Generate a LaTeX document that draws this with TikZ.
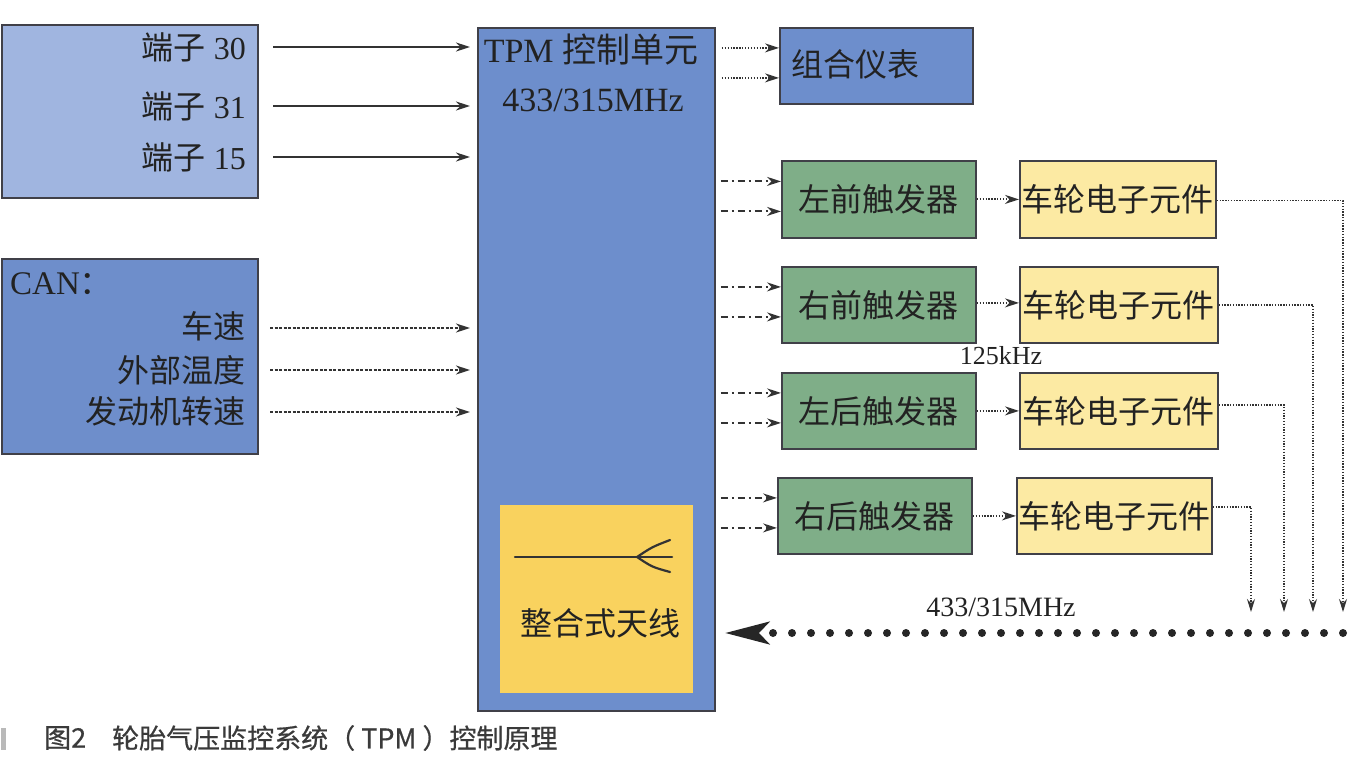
\documentclass[tikz,border=0pt]{standalone}
\usepackage{fontspec}
\setmainfont{Liberation Serif}
\newfontfamily\cjk{Noto Sans CJK SC}
\newfontfamily\capfont[FakeBold=0.6]{Noto Sans CJK SC}
\usetikzlibrary{arrows.meta,calc}
\definecolor{termblue}{HTML}{A0B5E0}
\definecolor{canblue}{HTML}{6E8ECB}
\definecolor{tpmblue}{HTML}{6D8ECC}
\definecolor{trgreen}{HTML}{7FAE88}
\definecolor{wyellow}{HTML}{FCEAA3}
\definecolor{antyellow}{HTML}{F9D25E}
\definecolor{bordercol}{HTML}{404048}
\definecolor{arrcol}{HTML}{333333}
\definecolor{txtcol}{HTML}{222222}
\definecolor{captcol}{HTML}{3A3A3A}
\newcommand\myzh[1]{{\cjk #1}}
\begin{document}
\begin{tikzpicture}[x=1pt,y=-1pt,
 box/.style={draw=bordercol,line width=1.8pt,inner sep=0pt,anchor=north west,text=txtcol,font=\cjk\fontsize{32}{36}\selectfont},
 lbl/.style={inner sep=0pt,text=txtcol,font=\fontsize{32}{36}\selectfont},
 solidarr/.style={draw=arrcol,line width=1.9pt,-{Stealth[length=14pt,width=9pt]}},
 dasharr/.style={solidarr,dash pattern=on 3pt off 1.5pt},
 dotarr/.style={solidarr,dash pattern=on 1.3pt off 1.6pt},
 dotdasharr/.style={solidarr,dash pattern=on 7pt off 4pt on 2pt off 4pt},
 rfline/.style={draw=arrcol,line width=1.3pt,dash pattern=on 1.3pt off 1.5pt,-{Stealth[length=13pt,width=8pt]}},
 bigdot/.style={draw=black!85,line width=8pt,dash pattern=on 0pt off 19pt,line cap=round,-{Stealth[length=44pt,width=22pt,inset=10pt]}},
]
\useasboundingbox (0,0) rectangle (1358,758);
\fill[white] (0,0) rectangle (1358,758);

% left boxes
\node[box,fill=termblue,minimum width=256pt,minimum height=173pt] (term) at (1,24) {};
\node[lbl,anchor=east] (t30) at (246,47) {\myzh{端子} 30};
\node[lbl,anchor=east] (t31) at (246,106) {\myzh{端子} 31};
\node[lbl,anchor=east] (t15) at (246,157) {\myzh{端子} 15};

\node[box,fill=canblue,minimum width=256pt,minimum height=195pt] (can) at (1,258) {};
\node[lbl,anchor=west,font=\fontsize{33}{36}\selectfont] (cant) at (10,284) {CAN\myzh{：}};
\node[lbl,anchor=east] (v1) at (246,326) {\myzh{车速}};
\node[lbl,anchor=east] (v2) at (246,370) {\myzh{外部温度}};
\node[lbl,anchor=east] (v3) at (246,411) {\myzh{发动机转速}};

% TPM unit
\node[box,fill=tpmblue,minimum width=237pt,minimum height=683pt] (tpm) at (477,27) {};
\node[lbl,font=\fontsize{34}{38}\selectfont] (tpmt) at (591,50) {TPM \myzh{控制单元}};
\node[lbl,font=\fontsize{34}{38}\selectfont] (tpmf) at (593,100) {433/315MHz};

% antenna
\node[box,draw=none,fill=antyellow,minimum width=193pt,minimum height=188pt] (ant) at (499,504) {};
\draw[line width=2.5pt,draw=black!80,line cap=round] (515,557) -- (672,557);
\draw[line width=2.2pt,draw=black!80,line cap=round] (670,540) .. controls (652,547) .. (637,557) .. controls (652,567) .. (670,572);
\node[lbl,font=\cjk\fontsize{32}{36}\selectfont] (antt) at (600,623) {整合式天线};

% instrument cluster
\node[box,fill=tpmblue,minimum width=193pt,minimum height=76pt] (gz) at (779,27) {};
\node[lbl,anchor=west,font=\cjk\fontsize{32}{36}\selectfont] (gzt) at (791,64) {组合仪表};

% triggers and wheel electronics
\node[box,fill=trgreen,minimum width=194pt,minimum height=77pt] (tr1) at (781,160) {左前触发器};
\node[box,fill=trgreen,minimum width=194pt,minimum height=76pt] (tr2) at (781,266) {右前触发器};
\node[box,fill=trgreen,minimum width=194pt,minimum height=76pt] (tr3) at (781,372) {左后触发器};
\node[box,fill=trgreen,minimum width=194pt,minimum height=76pt] (tr4) at (777,477) {右后触发器};
\node[box,fill=wyellow,minimum width=196pt,minimum height=77pt] (w1) at (1019,160) {车轮电子元件};
\node[box,fill=wyellow,minimum width=198pt,minimum height=76pt] (w2) at (1019,266) {车轮电子元件};
\node[box,fill=wyellow,minimum width=198pt,minimum height=76pt] (w3) at (1019,372) {车轮电子元件};
\node[box,fill=wyellow,minimum width=195pt,minimum height=76pt] (w4) at (1016,477) {车轮电子元件};

\node[lbl,font=\fontsize{26}{30}\selectfont] (khz) at (1001,356) {125kHz};
\node[lbl,font=\fontsize{28}{32}\selectfont] (mhz) at (1001,607) {433/315MHz};

% terminal arrows
\foreach \n in {t30,t31,t15}
  \draw[solidarr] ($(\n.east)+(27,0)$) -- ($(tpm.west |- \n.east)+(-7,0)$);
% CAN arrows
\draw[dasharr] ($(v1.east)+(24,2)$) -- ($(tpm.west |- v1.east)+(-7,2)$);
\draw[dasharr] ($(v2.east)+(24,0)$) -- ($(tpm.west |- v2.east)+(-7,0)$);
\draw[dasharr] ($(v3.east)+(24,1)$) -- ($(tpm.west |- v3.east)+(-7,1)$);

% TPM -> cluster
\draw[dotarr] ($(tpm.east |- gz.west)+(6,-18)$) -- ($(gz.west)+(0,-18)$);
\draw[dotarr] ($(tpm.east |- gz.west)+(6,12)$) -- ($(gz.west)+(0,12)$);

% TPM -> triggers
\foreach \t in {tr1,tr2,tr3,tr4}{
  \draw[dotdasharr] ($(tpm.east |- \t.west)+(5,-18)$) -- ($(\t.west)+(0,-18)$);
  \draw[dotdasharr] ($(tpm.east |- \t.west)+(5,12)$) -- ($(\t.west)+(0,12)$);
}

% triggers -> wheel electronics
\draw[dotarr] (tr1.east) -- (w1.west);
\draw[dotarr] ($(tr2.east)+(0,-2)$) -- ($(w2.west)+(0,-2)$);
\draw[dotarr] (tr3.east) -- (w3.west);
\draw[dotarr] (tr4.east) -- (w4.west);

% wheel electronics -> RF link
\coordinate (d1) at (1343,612);
\coordinate (d2) at (1313,612);
\coordinate (d3) at (1284,612);
\coordinate (d4) at (1251,612);
\draw[rfline] ($(w1.east)+(0,1)$) -| (d1);
\draw[rfline] (w2.east) -| (d2);
\draw[rfline] ($(w3.east)+(0,-6)$) -| (d3);
\draw[rfline] ($(w4.east)+(0,-9)$) -| (d4);

% RF to antenna
\coordinate (bs) at (1343,633);
\draw[bigdot] (bs) -- ($(tpm.east |- bs)+(9,0)$);

% caption
\fill[gray!55] (1,728) rectangle (6,750);
\node[anchor=west,inner sep=0pt,text=captcol,font=\capfont\fontsize{27}{30}\selectfont] (cap1) at (44,738) {图2};
\node[anchor=west,inner sep=0pt,text=captcol,font=\capfont\fontsize{27}{30}\selectfont] (cap2) at (112,738) {轮胎气压监控系统（ TPM ）控制原理};
\end{tikzpicture}
\end{document}
